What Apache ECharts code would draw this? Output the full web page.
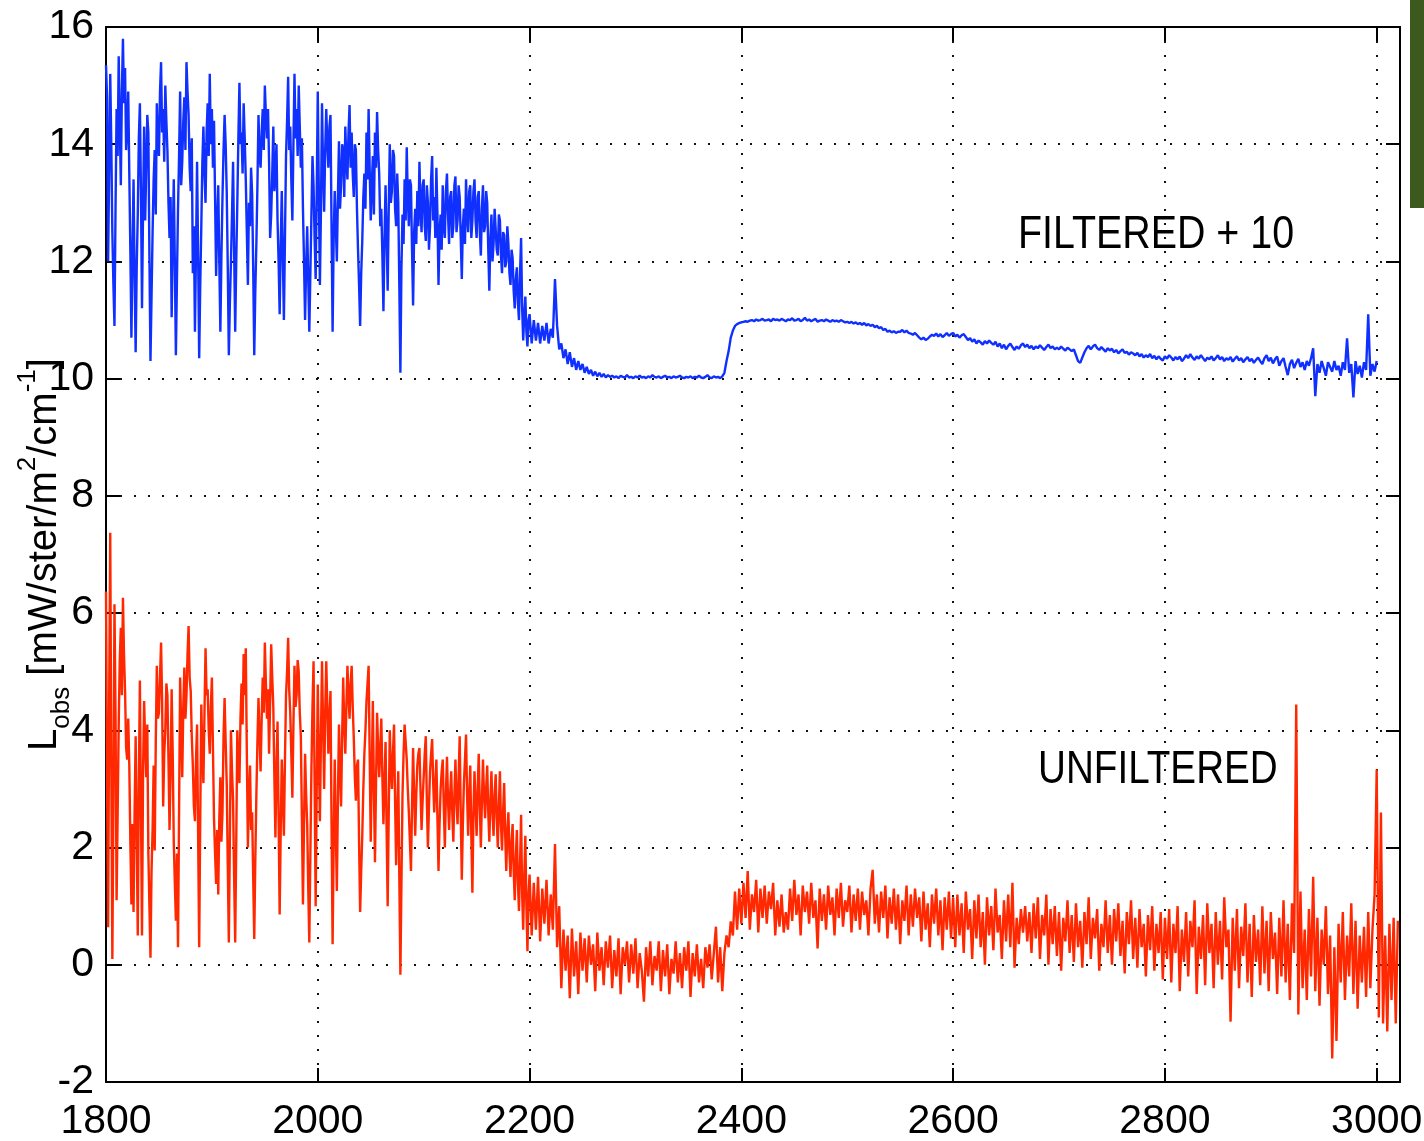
<!DOCTYPE html>
<html><head><meta charset="utf-8">
<script src="https://cdn.jsdelivr.net/npm/echarts@6/dist/echarts.min.js"></script>
<style>html,body{margin:0;padding:0;background:#fff}#c{width:1424px;height:1141px}</style>
</head><body><div id="c"></div>
<script>
// tick labels
const X_TICKS = [1800, 2000, 2200, 2400, 2600, 2800, 3000];
const Y_TICKS = [-2, 0, 2, 4, 6, 8, 10, 12, 14, 16];

// FILTERED (+10) radiance. Each array is one wavenumber segment; 1800-2199 sampled every 1 cm^-1, the rest every 2 cm^-1
const filtered1800 = [15.35,14.8,12.0,13.6,15.2,14.0,12.5,11.6,10.9,12.9,14.6,13.8,15.5,14.4,13.3,14.9,15.8,14.7,15.3,13.9,
14.3,14.9,13.5,12.2,10.7,12.1,13.4,11.8,10.45,11.9,12.8,14.1,14.7,13.2,11.2,12.9,14.3,12.7,13.6,14.5,
14.2,12.1,10.3,11.4,12.5,13.4,13.9,12.8,14.7,14.0,13.8,14.9,15.4,14.2,14.6,13.7,15.0,14.4,13.9,13.0,
12.4,13.1,11.05,12.3,13.4,12.0,10.4,11.7,12.9,13.8,14.9,13.3,13.7,14.4,14.8,13.9,15.4,14.9,14.5,13.6,
13.2,14.1,11.8,12.6,10.8,12.2,13.7,12.1,10.35,11.6,12.6,13.7,14.3,13.5,13.0,14.2,14.7,13.8,15.2,14.0,
14.6,13.6,14.4,13.1,11.75,12.7,13.3,12.0,10.8,12.1,13.1,13.9,14.5,14.0,13.2,11.9,10.4,11.3,12.0,12.8,
13.7,12.2,10.8,12.0,13.0,14.1,15.05,14.0,14.2,13.5,14.7,14.1,13.4,12.5,11.6,13.0,12.6,13.6,13.15,11.9,
10.4,11.5,12.3,13.3,14.5,13.8,13.6,14.2,14.6,13.9,15.0,14.5,14.1,14.6,13.7,12.4,12.8,13.5,14.3,13.2,
13.5,14.0,12.7,12.0,11.1,12.3,13.2,12.1,11.0,12.4,13.8,14.4,15.15,13.9,14.3,13.4,12.7,14.0,15.2,14.1,
14.6,13.8,15.0,14.3,13.6,14.1,12.9,12.0,11.0,11.9,12.6,11.7,10.8,11.8,12.8,13.8,13.3,12.4,11.7,13.2];
const filtered2000 = [14.9,13.2,11.6,12.9,14.7,13.6,12.85,13.9,14.6,14.0,13.6,14.3,14.5,12.6,10.8,12.4,13.2,12.6,12.0,13.1,
14.05,12.9,13.3,14.0,13.9,13.1,14.3,13.7,13.4,14.2,14.67,13.6,14.2,13.5,13.1,14.0,13.9,12.9,12.2,11.6,
10.9,11.8,12.35,13.1,13.5,12.9,14.2,13.4,14.6,13.6,12.7,13.3,13.8,12.8,14.2,13.6,14.55,13.9,13.5,12.6,
12.9,12.1,11.15,12.4,13.3,12.4,11.5,12.9,14.0,13.0,13.2,13.9,13.8,12.9,12.6,13.5,13.0,11.6,10.1,11.9,
12.8,12.3,13.4,12.7,13.95,13.1,12.6,13.4,13.3,12.2,11.25,12.5,12.9,12.3,13.2,12.6,13.7,12.9,12.5,13.3,
13.4,12.6,12.35,13.3,13.0,12.2,12.6,13.4,13.8,12.7,13.1,12.4,13.6,12.8,11.6,12.5,12.8,12.2,13.3,12.6,
12.4,13.2,13.5,12.8,12.3,13.1,13.2,12.4,12.6,13.3,13.45,12.5,12.7,13.3,13.1,12.4,11.7,12.6,12.9,12.3,
13.4,12.8,12.5,13.2,13.3,12.4,12.7,13.2,13.4,12.7,12.4,13.1,13.2,12.5,12.1,12.9,13.3,12.5,12.6,13.2,
13.0,12.2,11.5,12.4,12.8,12.0,12.3,12.9,12.9,12.2,12.1,12.8,12.7,12.1,11.8,12.5,12.45,11.9,12.0,12.6,
12.3,11.8,11.6,12.2,12.05,11.5,11.2,11.7,11.9,11.3,11.0,11.8,12.4,11.2,10.65,11.1,11.4,10.8,10.55,11.0];
const filtered2200 = [11.1,10.6,11.0,10.65,10.95,10.6,10.9,10.65,10.95,10.6,
10.85,10.7,11.7,10.9,10.5,10.6,10.35,10.5,10.25,10.45,
10.2,10.35,10.15,10.3,10.15,10.25,10.1,10.2,10.08,10.15,
10.05,10.12,10.04,10.1,10.03,10.08,10.02,10.06,10.03,10.05,
10.02,10.04,10.01,10.05,10.03,10.02,10.06,10.02,10.03,10.01,
10.04,10.02,10.05,10.02,10.03,10.01,10.04,10.02,10.06,10.03,
10.02,10.04,10.01,10.03,10.05,10.02,10.03,10.01,10.04,10.02,
10.03,10.05,10.02,10.01,10.03,10.02,10.04,10.01,10.03,10.02,
10.05,10.02,10.01,10.03,10.06,10.02,10.01,10.04,10.02,10.03,
10.01,10.04,10.1,10.3,10.47,10.7,10.82,10.9,10.93,10.95];
const filtered2400 = [10.96,10.97,10.98,10.97,10.99,11.0,10.98,11.01,10.99,11.0,
11.02,10.99,11.0,11.01,10.98,11.02,11.0,11.01,10.99,11.02,
11.0,10.98,11.01,11.0,11.03,10.99,11.0,11.02,10.98,11.0,
11.04,10.99,11.01,10.98,11.0,11.02,10.97,10.99,11.0,10.98,
11.01,10.99,10.97,11.0,10.98,10.99,10.97,11.0,10.98,10.96,
10.97,10.95,10.97,10.94,10.96,10.93,10.95,10.92,10.95,10.91,
10.93,10.9,10.92,10.88,10.9,10.86,10.88,10.83,10.85,10.8,
10.82,10.79,10.81,10.78,10.8,10.8,10.83,10.79,10.82,10.78,
10.77,10.75,10.78,10.74,10.7,10.67,10.7,10.66,10.68,10.72,
10.75,10.73,10.77,10.72,10.76,10.71,10.74,10.78,10.73,10.76];
const filtered2600 = [10.78,10.72,10.75,10.7,10.74,10.76,10.71,10.66,10.69,10.63,
10.67,10.6,10.65,10.62,10.58,10.64,10.6,10.65,10.61,10.58,
10.63,10.55,10.6,10.52,10.58,10.5,10.56,10.6,10.54,10.49,
10.55,10.51,10.57,10.6,10.54,10.58,10.52,10.56,10.5,10.55,
10.52,10.57,10.53,10.49,10.54,10.58,10.52,10.55,10.5,10.53,
10.5,10.55,10.51,10.48,10.53,10.5,10.47,10.5,10.4,10.3,
10.27,10.36,10.45,10.52,10.56,10.5,10.55,10.58,10.52,10.49,
10.54,10.5,10.46,10.52,10.48,10.51,10.45,10.49,10.43,10.47,
10.5,10.44,10.46,10.41,10.45,10.43,10.4,10.44,10.38,10.42,
10.36,10.4,10.37,10.42,10.35,10.39,10.33,10.38,10.34,10.31];
const filtered2800 = [10.38,10.34,10.4,10.36,10.31,10.37,10.33,10.38,10.3,10.34,
10.4,10.35,10.42,10.36,10.32,10.38,10.34,10.4,10.35,10.3,
10.36,10.33,10.38,10.31,10.35,10.4,10.33,10.37,10.3,10.35,
10.32,10.37,10.29,10.34,10.38,10.31,10.35,10.28,10.33,10.37,
10.3,10.34,10.27,10.32,10.36,10.3,10.25,10.35,10.4,10.3,
10.36,10.26,10.33,10.38,10.22,10.3,10.35,10.2,10.06,10.25,
10.32,10.18,10.27,10.34,10.2,10.28,10.15,10.3,10.22,10.35,
10.52,9.7,10.25,10.1,10.3,10.18,10.05,10.28,10.2,10.12,
10.3,10.15,10.22,10.05,10.28,10.15,10.69,10.1,10.25,9.68,
10.3,10.08,10.22,10.02,10.28,10.15,11.1,10.05,10.25,10.12,
10.3];

// UNFILTERED radiance
const unfiltered1800 = [6.37,3.2,0.64,4.5,7.37,3.4,0.1,2.8,6.15,4.3,1.1,2.6,4.1,5.2,5.75,4.6,6.26,5.3,4.67,3.7,
3.5,4.2,3.4,2.1,1.03,2.4,0.9,2.6,3.9,2.2,0.5,3.1,4.85,2.7,0.5,3.3,4.5,3.8,3.2,4.1,
1.9,1.0,0.12,1.6,2.3,3.4,1.95,3.8,5.1,4.2,4.3,4.9,5.5,4.5,2.7,3.6,4.0,4.8,4.6,3.5,
2.3,3.3,4.7,3.6,2.1,1.4,0.75,1.9,0.3,2.6,4.9,4.1,3.2,4.4,5.07,4.2,4.6,5.3,5.78,4.9,
4.67,3.9,3.4,2.7,2.45,3.5,4.1,2.2,0.3,2.5,4.44,3.6,3.1,4.3,5.4,4.6,4.7,4.0,3.6,4.4,
4.9,3.7,2.5,1.9,1.38,2.3,1.2,2.5,3.2,2.1,2.6,3.9,4.55,3.8,3.1,1.7,0.38,2.2,4.0,3.3,
2.8,1.5,0.38,2.1,4.0,3.4,3.1,4.2,4.8,4.1,5.3,4.6,5.4,3.6,2.0,2.9,3.4,2.3,2.6,1.5,
0.44,1.8,2.9,3.8,4.55,3.9,3.3,4.2,4.9,4.3,5.5,4.8,4.2,4.7,3.6,4.5,5.47,4.9,4.4,3.2,
2.17,3.4,4.15,2.5,0.86,2.3,3.5,2.9,2.2,3.5,4.6,5.0,5.58,4.7,4.3,3.6,2.85,4.1,5.1,4.4,
4.6,5.2,5.0,4.3,3.9,2.5,1.03,2.4,3.6,2.9,2.4,1.3,0.38,1.9,3.36,4.4,5.18,3.1,1.0,3.0];
const unfiltered2000 = [4.78,3.6,2.45,3.9,5.18,4.1,3.0,4.3,5.18,4.4,3.6,4.2,4.67,2.4,0.35,2.1,3.5,2.3,1.26,2.8,
4.1,3.3,2.7,3.9,4.9,4.1,3.6,4.4,5.1,4.6,4.2,4.8,5.1,4.4,3.87,3.2,2.8,3.4,3.5,2.1,
0.9,1.6,2.2,3.0,3.6,4.0,4.5,4.8,5.1,3.6,2.1,3.3,4.5,3.0,1.75,3.1,4.3,3.7,3.2,3.7,
4.2,3.2,2.4,3.1,3.8,2.3,1.0,2.6,4.0,3.4,3.0,3.6,4.1,2.8,1.7,2.6,3.3,1.5,-0.17,1.4,
2.9,3.6,4.1,3.8,3.5,3.0,2.6,2.1,1.6,2.7,3.7,2.9,2.2,2.9,3.4,3.6,3.7,3.0,2.3,2.8,
3.2,3.6,3.9,2.8,2.0,2.7,3.3,3.6,3.85,3.1,2.6,3.1,3.5,2.5,1.6,2.4,3.0,3.3,3.5,2.7,
2.0,2.9,3.55,2.8,2.3,2.9,3.3,2.6,2.1,2.9,3.5,2.8,2.4,3.2,3.9,2.6,1.45,2.4,3.1,3.5,
3.93,2.9,2.2,2.9,3.4,2.2,1.23,2.6,3.3,2.7,2.2,3.0,3.6,2.7,2.0,2.8,3.5,2.9,2.5,3.0,
3.4,2.6,2.1,2.8,3.3,2.6,2.2,2.9,3.25,2.5,2.0,2.7,3.3,2.4,1.95,2.6,3.1,2.2,1.6,2.3,
2.6,1.9,1.5,2.1,2.4,1.6,1.1,1.8,2.3,1.4,0.92,1.7,2.56,1.2,0.6,1.5,2.2,1.0,0.23,1.2];
const unfiltered2200 = [1.54,0.5,1.4,0.6,1.5,0.4,1.3,0.7,1.45,0.5,
1.2,0.6,2.06,0.3,1.0,-0.4,0.6,-0.1,0.5,-0.57,
0.62,-0.2,0.4,-0.5,0.55,-0.1,0.45,-0.3,0.5,0.0,
0.35,-0.45,0.55,-0.1,0.3,-0.35,0.4,-0.05,0.5,-0.4,
0.25,-0.2,0.45,-0.5,0.3,0.0,0.4,-0.3,0.35,-0.15,
0.45,-0.4,0.2,-0.1,-0.63,0.3,-0.2,0.4,-0.35,0.15,
-0.1,0.4,-0.45,0.25,-0.2,0.35,-0.5,0.1,-0.15,0.4,
-0.3,0.2,-0.4,0.3,-0.1,0.4,-0.55,0.2,-0.2,0.35,
-0.3,0.1,-0.4,0.3,-0.05,0.35,-0.25,0.2,0.65,-0.3,
0.3,-0.45,0.2,0.5,0.3,0.74,0.5,1.25,0.6,1.3];
const unfiltered2400 = [0.7,1.4,0.8,1.6,0.6,1.2,0.9,1.45,0.55,1.3,
0.8,1.35,0.7,1.25,0.95,1.4,0.5,1.1,0.65,1.2,
0.55,0.9,0.6,1.3,0.75,1.45,0.85,1.2,0.5,1.35,
0.9,1.25,0.7,1.4,0.8,1.1,0.28,1.3,0.75,1.2,
0.6,1.35,0.85,1.15,0.5,1.3,0.8,1.4,0.65,1.1,
0.9,1.35,0.55,1.2,0.75,1.3,0.6,1.25,0.85,1.1,
0.5,1.3,1.62,0.7,1.2,0.55,1.25,0.8,1.35,0.45,
1.15,0.7,1.3,0.6,1.2,0.35,1.1,0.75,1.35,0.5,
1.2,0.65,1.3,0.8,1.15,0.4,1.25,0.6,1.05,0.3,
1.2,0.7,1.3,0.5,1.1,0.25,1.15,0.6,1.25,0.45];
const unfiltered2600 = [1.15,0.3,1.2,0.5,1.05,0.2,1.25,0.6,0.95,0.1,
1.1,0.45,1.2,0.3,0.9,0.0,1.15,0.5,1.0,0.25,
1.3,0.55,0.85,0.1,1.1,0.4,1.2,0.3,1.4,-0.05,
0.8,0.35,0.95,0.55,1.0,0.4,0.9,0.2,1.05,0.45,
1.15,0.1,0.85,0.5,1.2,0.0,0.95,0.35,1.0,0.15,
0.9,-0.1,0.8,0.4,1.1,0.2,0.85,0.05,1.05,0.3,
0.75,-0.05,0.9,0.35,1.15,0.1,0.8,0.45,0.95,-0.1,
0.7,0.3,1.1,0.2,0.85,0.0,0.95,0.4,1.05,0.15,
0.75,-0.15,0.9,0.35,1.1,0.1,0.8,-0.05,0.95,0.3,
0.7,-0.2,0.85,0.25,1.0,-0.1,0.7,0.2,0.9,-0.25];
const unfiltered2800 = [0.8,0.1,0.95,-0.3,0.7,0.2,1.0,-0.45,0.6,0.05,
0.9,-0.2,0.75,0.3,1.1,-0.5,0.65,0.1,0.85,-0.35,
1.05,0.2,0.7,-0.4,0.9,0.0,0.75,-0.25,1.15,0.3,
0.6,-0.97,0.8,-0.1,0.95,-0.4,0.65,0.15,1.05,-0.3,
0.7,-0.55,0.85,0.05,0.6,-0.35,1.0,-0.15,0.75,-0.45,
0.9,0.1,0.55,-0.5,0.8,-0.2,1.1,-0.3,0.7,-0.6,
1.05,0.2,4.44,-0.85,1.25,-0.4,0.6,-0.6,0.95,-0.2,
1.5,-0.45,0.8,-0.7,0.6,0.0,1.0,-0.5,0.5,-1.6,
0.3,-1.3,0.7,-0.3,0.9,-0.6,0.5,-0.2,1.05,-0.5,
0.75,-0.75,0.5,-0.3,0.65,-0.55,0.9,-0.4,0.6,1.2,
3.33,-0.9,2.6,-1.0,0.5,-1.14,0.7,-0.6,0.8,-1.0,
0.75];

// [first wavenumber, sampling step (cm^-1), values]
const FILTERED_SEGMENTS = [[1800, 1, filtered1800],[2000, 1, filtered2000],[2200, 2, filtered2200],[2400, 2, filtered2400],[2600, 2, filtered2600],[2800, 2, filtered2800]];
const UNFILTERED_SEGMENTS = [[1800, 1, unfiltered1800],[2000, 1, unfiltered2000],[2200, 2, unfiltered2200],[2400, 2, unfiltered2400],[2600, 2, unfiltered2600],[2800, 2, unfiltered2800]];

function toPairs(segs){
  const out = [];
  segs.forEach(([start, step, vals]) => vals.forEach((v, i) => out.push([start + step * i, v])));
  return out;
}

const FONT = '"Liberation Sans", Arial, Helvetica, sans-serif';
const chart = echarts.init(document.getElementById('c'), null, {renderer: 'canvas'});

const dotted = {show: true, lineStyle: {color: '#111', width: 2, type: [2, 12]}};
const frameLine = {show: true, onZero: false, lineStyle: {color: '#000', width: 2}};
const tick = {show: true, inside: true, length: 14, lineStyle: {color: '#000', width: 2}};

chart.setOption({
  animation: false,
  backgroundColor: '#fff',
  grid: {left: 106, top: 27, right: 24, bottom: 59, containLabel: false, outerBoundsMode: 'none'},
  xAxis: [{
    type: 'value', min: 1800, max: 3022, interval: 200, position: 'bottom',
    axisLine: frameLine, axisTick: tick, splitLine: dotted,
    axisLabel: {
      margin: 19, color: '#000', fontSize: 41, fontFamily: FONT,
      formatter: v => X_TICKS.indexOf(v) >= 0 ? String(v) : ''
    }
  }, {
    type: 'value', min: 1800, max: 3022, interval: 200, position: 'top',
    axisLine: frameLine, axisTick: tick, splitLine: {show: false}, axisLabel: {show: false}
  }],
  yAxis: [{
    type: 'value', min: -2, max: 16, interval: 2, position: 'left',
    axisLine: frameLine, axisTick: tick, splitLine: dotted,
    axisLabel: {margin: 12, color: '#000', fontSize: 41, fontFamily: FONT,
      formatter: v => Y_TICKS.indexOf(v) >= 0 ? String(v) : ''},
    name: '{m|L}{sub|obs}{m| [mW/ster/m}{sup|2}{m|/cm}{sup|-1}{m|]}',
    nameLocation: 'middle', nameRotate: 90, nameGap: 31, nameMoveOverlap: false,
    nameTextStyle: {
      color: '#000',
      rich: {
        m: {fontSize: 40, fontFamily: FONT, color: '#000'},
        sub: {fontSize: 26, fontFamily: FONT, color: '#000', padding: [34, 0, 0, 0]},
        sup: {fontSize: 26, fontFamily: FONT, color: '#000', padding: [0, 0, 34, 0]}
      }
    }
  }, {
    type: 'value', min: -2, max: 16, interval: 2, position: 'right',
    axisLine: frameLine, axisTick: tick, splitLine: {show: false}, axisLabel: {show: false}
  }],
  series: [{
    name: 'FILTERED + 10', type: 'line', xAxisIndex: 0, yAxisIndex: 0,
    data: toPairs(FILTERED_SEGMENTS), showSymbol: false, symbol: 'none', sampling: 'none',
    lineStyle: {color: '#1030ff', width: 2.4}, z: 3
  }, {
    name: 'UNFILTERED', type: 'line', xAxisIndex: 0, yAxisIndex: 0,
    data: toPairs(UNFILTERED_SEGMENTS), showSymbol: false, symbol: 'none', sampling: 'none',
    lineStyle: {color: '#ff2800', width: 2.4}, z: 3
  }],
  graphic: [
    {type: 'text', x: 1018, y: 212, scaleX: 0.856, z: 10,
      style: {text: 'FILTERED + 10', fontSize: 46, fontFamily: FONT, fill: '#000', align: 'left', verticalAlign: 'top'}},
    {type: 'text', x: 1038, y: 747, scaleX: 0.84, z: 10,
      style: {text: 'UNFILTERED', fontSize: 46, fontFamily: FONT, fill: '#000', align: 'left', verticalAlign: 'top'}},
    {type: 'rect', shape: {x: 1410, y: 0, width: 14, height: 208}, style: {fill: '#3c5a1e'}, z: 10}
  ]
});
</script></body></html>
